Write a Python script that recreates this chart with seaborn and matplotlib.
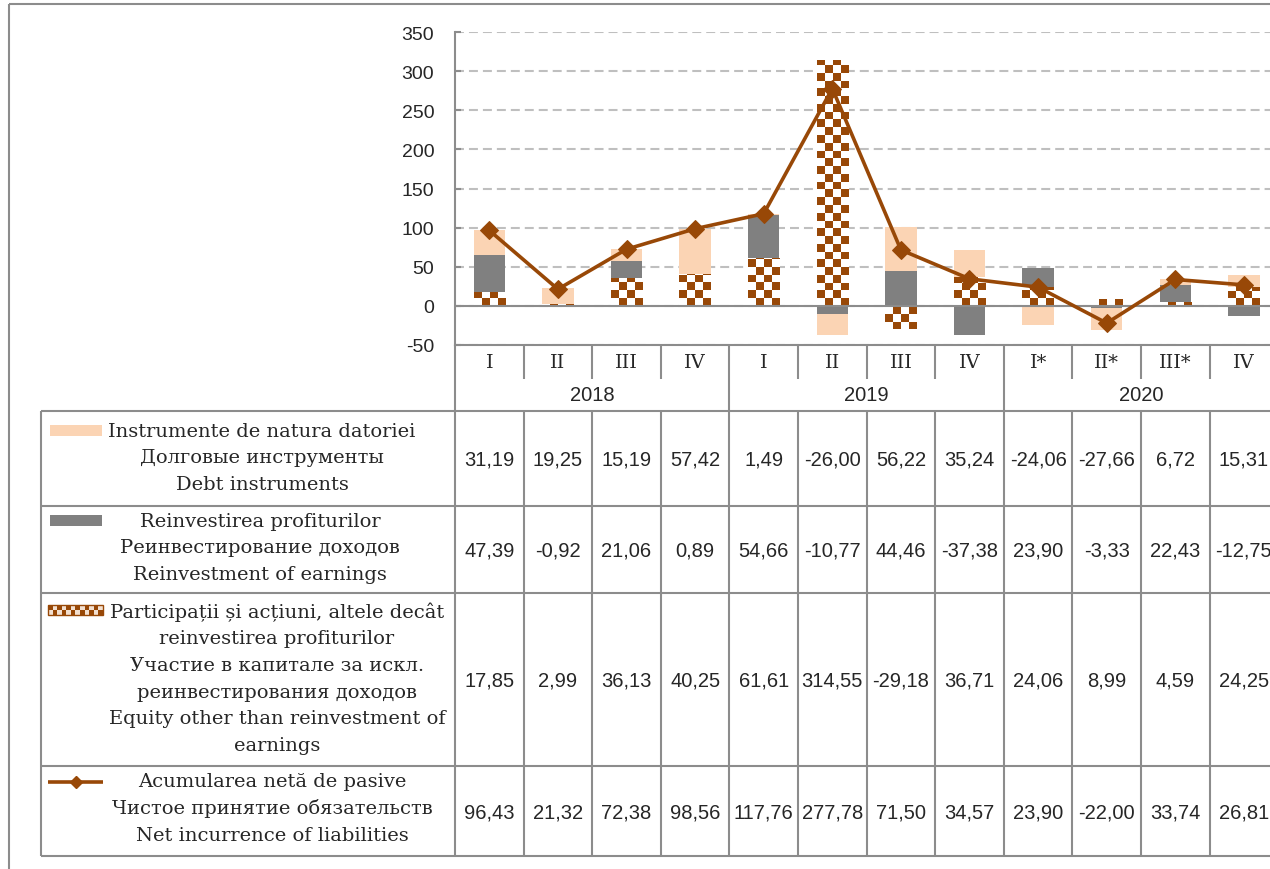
import numpy as np
import pandas as pd
import matplotlib
matplotlib.use('Agg')
import matplotlib.pyplot as plt
from matplotlib.colors import ListedColormap
from matplotlib.patches import Rectangle
import seaborn as sns

# DATA ########################################################################
quarters = ['I', 'II', 'III', 'IV', 'I', 'II', 'III', 'IV', 'I*', 'II*', 'III*', 'IV']
years = ['2018', '2019', '2020']
debt = [31.19, 19.25, 15.19, 57.42, 1.49, -26.00, 56.22, 35.24, -24.06, -27.66, 6.72, 15.31]
reinvest = [47.39, -0.92, 21.06, 0.89, 54.66, -10.77, 44.46, -37.38, 23.90, -3.33, 22.43, -12.75]
equity = [17.85, 2.99, 36.13, 40.25, 61.61, 314.55, -29.18, 36.71, 24.06, 8.99, 4.59, 24.25]
net = [96.43, 21.32, 72.38, 98.56, 117.76, 277.78, 71.50, 34.57, 23.90, -22.00, 33.74, 26.81]

lab_debt = ['Instrumente de natura datoriei', 'Долговые инструменты', 'Debt instruments']
lab_reinv = ['Reinvestirea profiturilor', 'Реинвестирование доходов', 'Reinvestment of earnings']
lab_equity = ['Participații și acțiuni, altele decât', 'reinvestirea profiturilor',
              'Участие в капитале за искл.', 'реинвестирования доходов',
              'Equity other than reinvestment of', 'earnings']
lab_net = ['Acumularea netă de pasive', 'Чистое принятие обязательств', 'Net incurrence of liabilities']

# STYLE #######################################################################
sns.set_style('white')
plt.rcParams['font.family'] = ['DejaVu Serif']
plt.rcParams['axes.unicode_minus'] = False
SANS = ['Liberation Sans', 'DejaVu Sans']

PEACH = '#FBD4B4'
GRAY = '#808080'
BROWN = '#984807'
LINE = '#8C8C8C'
checker = ListedColormap(['white', BROWN])

W, H = 1270, 870
AX_L, COL_W = 455, 68.6
fig = plt.figure(figsize=(12.7, 8.7), dpi=100)
ax = fig.add_axes([AX_L / W, 1 - 346 / H, 12 * COL_W / W, 313 / H])

df = pd.DataFrame({'idx': range(12), 'debt': debt, 'reinvest': reinvest,
                   'equity': equity, 'net': net})

# stacking, Excel style (positives and negatives separately)
pos_base = np.zeros(12)
neg_base = np.zeros(12)
bottoms = {}
for name in ['equity', 'reinvest', 'debt']:
    v = df[name].to_numpy()
    bottoms[name] = np.where(v >= 0, pos_base, neg_base)
    pos_base = pos_base + np.clip(v, 0, None)
    neg_base = neg_base + np.clip(v, None, 0)

colors = {'equity': 'white', 'reinvest': GRAY, 'debt': PEACH}
bars = {}
for name in ['equity', 'reinvest', 'debt']:
    sns.barplot(data=df, x='idx', y=name, bottom=bottoms[name], color=colors[name],
                saturation=1, width=0.46, errorbar=None, linewidth=0, ax=ax, zorder=2)
    bars[name] = list(ax.containers[-1])

# checker pattern for equity bars
cell_h = 9.9
for p in bars['equity']:
    x0, w = p.get_x(), p.get_width()
    y0, h = p.get_y(), p.get_height()
    lo, hi = min(y0, y0 + h), max(y0, y0 + h)
    start = np.floor(lo / cell_h) * cell_h
    n = int(np.ceil((hi - start) / cell_h))
    grid = np.add.outer(np.arange(n), np.arange(4)) % 2
    im = ax.imshow(grid, cmap=checker, extent=[x0, x0 + w, start, start + n * cell_h],
                   origin='lower', aspect='auto', interpolation='nearest', zorder=2.5)
    im.set_clip_path(p)

ax.axhline(0, color=LINE, lw=1.5, zorder=3)
sns.lineplot(x=df['idx'], y=df['net'], color=BROWN, lw=2.6, marker='D', markersize=9.5,
             markeredgecolor=BROWN, ax=ax, zorder=5, legend=False)

ax.set_xlim(-0.5, 11.5)
ax.set_ylim(-50, 350)
ax.set_yticks(np.arange(-50, 351, 50))
ax.yaxis.grid(True, color='#BFBFBF', lw=1.5, linestyle=(0, (4.3, 2.4)), zorder=0)
ax.set_axisbelow(True)
ax.set_xticks([])
ax.set_xlabel('')
ax.set_ylabel('')
ax.tick_params(axis='y', left=True, direction='in', length=4, width=1.5, color=LINE,
               pad=15, labelsize=14)
for t in ax.get_yticklabels():
    t.set_family(SANS)
sns.despine(ax=ax, top=True, right=True)
ax.spines['left'].set_color(LINE)
ax.spines['left'].set_linewidth(1.5)
ax.spines['bottom'].set_color(LINE)
ax.spines['bottom'].set_linewidth(1.5)

# TABLE (overlay in pixel coordinates) ########################################
tab = fig.add_axes([0, 0, 1, 1], facecolor='none')
tab.set_xlim(0, W)
tab.set_ylim(H, 0)
tab.axis('off')
lk = dict(color=LINE, lw=1.5, solid_capstyle='butt')

edges = AX_L + np.arange(13) * COL_W
centers = edges[:-1] + COL_W / 2

# outer frame
tab.plot([9, W], [5, 5], **lk)
tab.plot([9, 9], [5, H], **lk)

# category / year rows
for i, x in enumerate(edges):
    tab.plot([x, x], [346, 412 if i % 4 == 0 else 380], **lk)
for x, q in zip(centers, quarters):
    tab.text(x, 363, q, ha='center', va='center', fontsize=14)
for k, yr in enumerate(years):
    tab.text(edges[4 * k] + 2 * COL_W, 396, yr, ha='center', va='center', fontsize=14.5,
             family=SANS)

# data table grid
row_y = [412, 507, 594, 767, 857]
for y in row_y:
    tab.plot([41, W], [y, y], **lk)
tab.plot([41, 41], [412, 857], **lk)
for x in edges:
    tab.plot([x, x], [412, 857], **lk)

series = [debt, reinvest, equity, net]
for r, vals in enumerate(series):
    yc = (row_y[r] + row_y[r + 1]) / 2
    for x, v in zip(centers, vals):
        tab.text(x, yc + 1, f'{v:.2f}'.replace('.', ','), ha='center', va='center',
                 fontsize=14.5, family=SANS)

# legend cells
def lines_at(xc, ys, lines):
    for y, s in zip(ys, lines):
        tab.text(xc, y, s, ha='center', va='center', fontsize=14)

tab.add_patch(Rectangle((50, 426), 52, 11, color=PEACH, lw=0))
lines_at(262, [432, 458, 485], lab_debt)
tab.add_patch(Rectangle((50, 516), 52, 11, color=GRAY, lw=0))
lines_at(260, [522, 548, 575], lab_reinv)
key = np.add.outer(np.arange(2), np.arange(12)) % 2
tab.imshow(key, cmap=ListedColormap([BROWN, '#F3E0D0']), extent=[48, 103, 616, 606],
           aspect='auto', interpolation='nearest')
tab.add_patch(Rectangle((48, 606), 55, 10, fill=False, ec=BROWN, lw=1))
lines_at(277, [612, 639, 666, 693, 719, 746], lab_equity)
tab.plot([48, 103], [783, 783], color=BROWN, lw=2.6, solid_capstyle='butt')
tab.plot([75.5], [783], marker='D', color=BROWN, markersize=6)
lines_at(272, [782, 809, 836], lab_net)
tab.set_xlim(0, W)
tab.set_ylim(H, 0)

fig.savefig('out.png', dpi=100, facecolor='white')
